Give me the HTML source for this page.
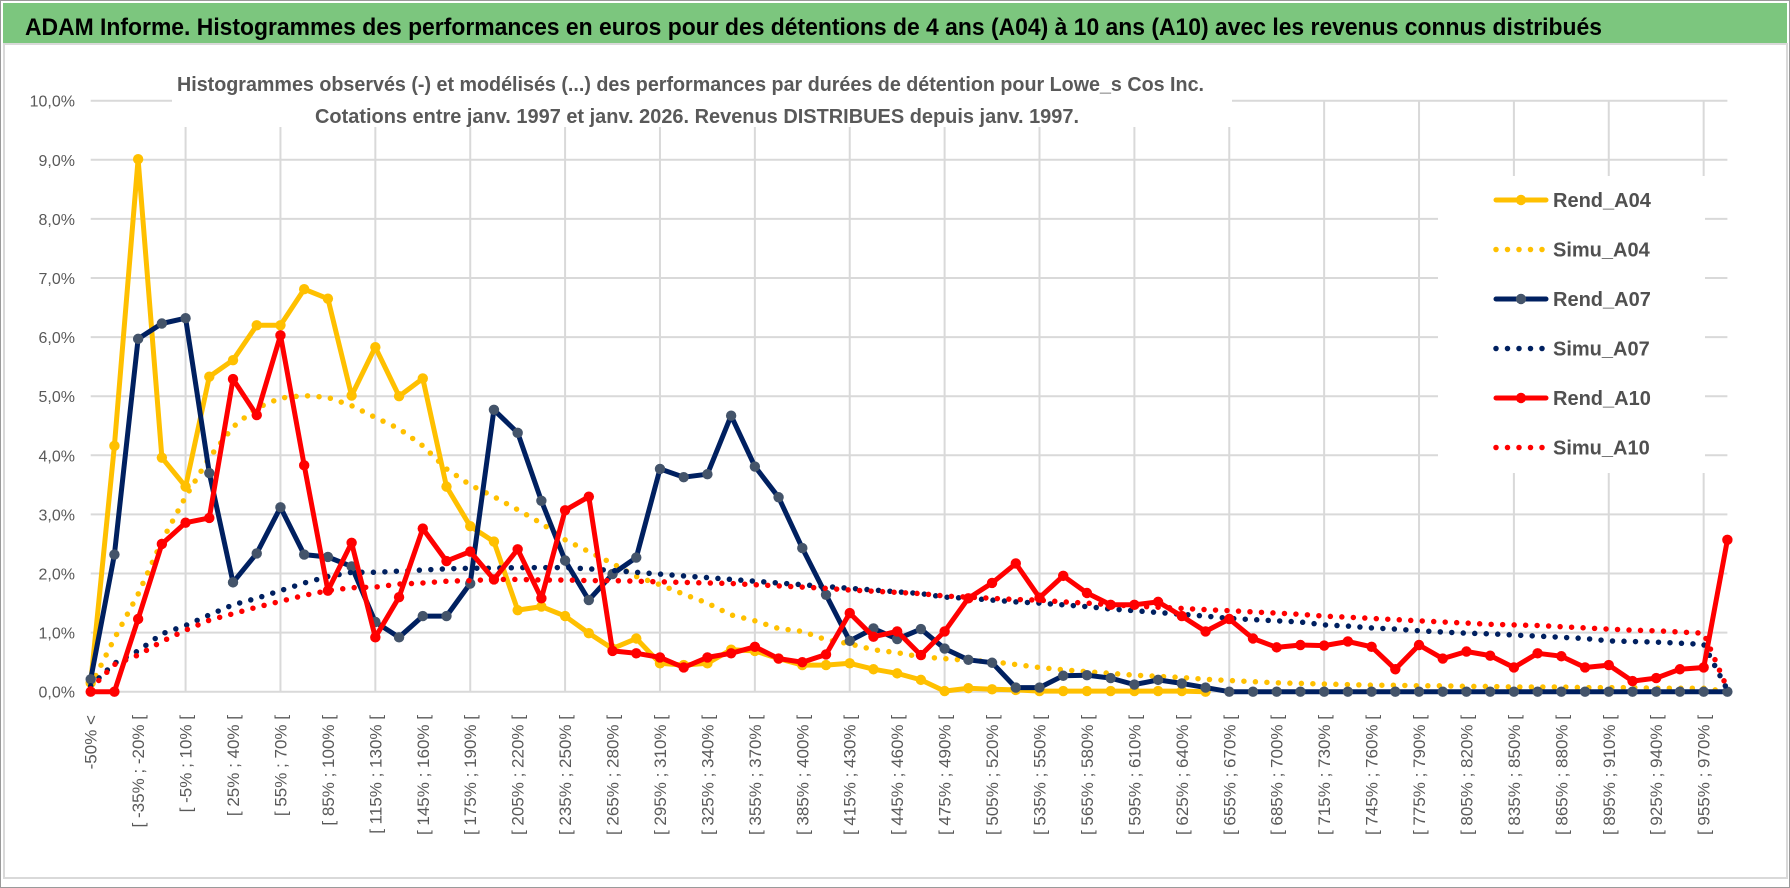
<!DOCTYPE html>
<html><head><meta charset="utf-8"><style>
html,body{margin:0;padding:0;background:#fff;}
svg{display:block;font-family:"Liberation Sans",sans-serif;}
</style></head><body>
<svg id="chart" width="1790" height="888" viewBox="0 0 1790 888">
<rect x="0.5" y="0.5" width="1789" height="887" fill="#fff" stroke="#9a9a9a"/>
<rect x="3" y="3" width="1784" height="40" fill="#7cc67e"/>
<text x="25" y="35" font-size="24" font-weight="bold" fill="#000" textLength="1577" lengthAdjust="spacingAndGlyphs">ADAM Informe. Histogrammes des performances en euros pour des détentions de 4 ans (A04) à 10 ans (A10) avec les revenus connus distribués</text>
<rect x="4" y="44" width="1783" height="834" fill="none" stroke="#d9d9d9" stroke-width="2"/>
<g id="grid"></g>
<rect x="172" y="58" width="1060" height="69" fill="#fff"/>
<text x="177" y="91" font-size="20" font-weight="bold" fill="#595959" textLength="1027" lengthAdjust="spacingAndGlyphs">Histogrammes observés (-) et modélisés (...) des performances par durées de détention pour Lowe_s Cos Inc.</text>
<text x="315" y="123" font-size="20" font-weight="bold" fill="#595959" textLength="764" lengthAdjust="spacingAndGlyphs">Cotations entre janv. 1997 et janv. 2026. Revenus DISTRIBUES depuis janv. 1997.</text>
<g id="yaxis"></g>
<g id="xaxis"></g>
<g id="series"></g>
<g id="legend"></g>
</svg>
<script>
const categories = ["-50% <","[ -50% ; -35% [","[ -35% ; -20% [","[ -20% ; -5% [","[ -5% ; 10% [","[ 10% ; 25% [","[ 25% ; 40% [","[ 40% ; 55% [","[ 55% ; 70% [","[ 70% ; 85% [","[ 85% ; 100% [","[ 100% ; 115% [","[ 115% ; 130% [","[ 130% ; 145% [","[ 145% ; 160% [","[ 160% ; 175% [","[ 175% ; 190% [","[ 190% ; 205% [","[ 205% ; 220% [","[ 220% ; 235% [","[ 235% ; 250% [","[ 250% ; 265% [","[ 265% ; 280% [","[ 280% ; 295% [","[ 295% ; 310% [","[ 310% ; 325% [","[ 325% ; 340% [","[ 340% ; 355% [","[ 355% ; 370% [","[ 370% ; 385% [","[ 385% ; 400% [","[ 400% ; 415% [","[ 415% ; 430% [","[ 430% ; 445% [","[ 445% ; 460% [","[ 460% ; 475% [","[ 475% ; 490% [","[ 490% ; 505% [","[ 505% ; 520% [","[ 520% ; 535% [","[ 535% ; 550% [","[ 550% ; 565% [","[ 565% ; 580% [","[ 580% ; 595% [","[ 595% ; 610% [","[ 610% ; 625% [","[ 625% ; 640% [","[ 640% ; 655% [","[ 655% ; 670% [","[ 670% ; 685% [","[ 685% ; 700% [","[ 700% ; 715% [","[ 715% ; 730% [","[ 730% ; 745% [","[ 745% ; 760% [","[ 760% ; 775% [","[ 775% ; 790% [","[ 790% ; 805% [","[ 805% ; 820% [","[ 820% ; 835% [","[ 835% ; 850% [","[ 850% ; 865% [","[ 865% ; 880% [","[ 880% ; 895% [","[ 895% ; 910% [","[ 910% ; 925% [","[ 925% ; 940% [","[ 940% ; 955% [","[ 955% ; 970% [","[ 970% ; 985% ["];
const yTicks = [0,1,2,3,4,5,6,7,8,9,10];
const yTickLabels = ["0,0%","1,0%","2,0%","3,0%","4,0%","5,0%","6,0%","7,0%","8,0%","9,0%","10,0%"];
const rendA04 = [0.15,4.16,9.01,3.96,3.47,5.33,5.61,6.2,6.2,6.81,6.65,5.01,5.83,5.0,5.3,3.47,2.8,2.54,1.38,1.44,1.28,0.99,0.73,0.9,0.48,0.45,0.48,0.71,0.69,0.56,0.45,0.45,0.48,0.38,0.31,0.2,0.01,0.06,0.04,0.03,0.01,0.01,0.01,0.01,0.01,0.01,0.01,0.0];
const simuA04 = [0.1,0.9,1.65,2.55,3.3,3.96,4.48,4.8,4.97,5.01,4.98,4.84,4.64,4.45,4.16,3.77,3.5,3.3,3.08,2.85,2.57,2.37,2.17,1.95,1.81,1.65,1.5,1.3,1.2,1.07,1.02,0.88,0.81,0.71,0.66,0.59,0.56,0.53,0.51,0.46,0.41,0.37,0.34,0.31,0.28,0.26,0.24,0.21,0.19,0.17,0.15,0.14,0.13,0.12,0.11,0.11,0.1,0.1,0.09,0.09,0.08,0.08,0.08,0.07,0.07,0.07,0.06,0.06,0.06,0];
const rendA07 = [0.21,2.32,5.97,6.23,6.32,3.7,1.85,2.34,3.12,2.32,2.28,2.12,1.18,0.92,1.28,1.28,1.83,4.77,4.38,3.23,2.22,1.55,1.99,2.27,3.77,3.63,3.68,4.67,3.81,3.29,2.43,1.64,0.86,1.07,0.89,1.06,0.73,0.54,0.49,0.07,0.07,0.27,0.28,0.23,0.12,0.2,0.14,0.07,0,0,0,0,0,0,0,0,0,0,0,0,0,0,0,0,0,0,0,0,0,0];
const simuA07 = [0.1,0.48,0.69,0.98,1.12,1.3,1.47,1.58,1.71,1.84,1.95,2.02,2.02,2.04,2.06,2.08,2.09,2.09,2.1,2.1,2.1,2.08,2.05,2.02,1.99,1.96,1.93,1.9,1.87,1.84,1.81,1.78,1.75,1.72,1.69,1.66,1.6,1.58,1.55,1.52,1.5,1.47,1.44,1.4,1.37,1.34,1.31,1.28,1.24,1.22,1.2,1.18,1.13,1.11,1.08,1.06,1.03,1.01,0.99,0.98,0.96,0.94,0.92,0.9,0.86,0.85,0.84,0.82,0.8,0.03];
const rendA10 = [0,0,1.23,2.5,2.86,2.94,5.29,4.68,6.03,3.83,1.71,2.52,0.92,1.6,2.76,2.21,2.37,1.9,2.41,1.58,3.07,3.3,0.69,0.65,0.58,0.41,0.58,0.65,0.76,0.56,0.5,0.63,1.33,0.93,1.02,0.62,1.02,1.58,1.84,2.17,1.59,1.96,1.67,1.47,1.47,1.52,1.28,1.02,1.23,0.9,0.75,0.79,0.78,0.85,0.76,0.38,0.79,0.56,0.68,0.61,0.41,0.65,0.6,0.41,0.45,0.18,0.23,0.38,0.41,2.57];
const simuA10 = [0.05,0.46,0.62,0.85,1.04,1.21,1.32,1.43,1.53,1.63,1.71,1.76,1.77,1.82,1.84,1.87,1.88,1.9,1.9,1.89,1.89,1.88,1.88,1.87,1.86,1.85,1.84,1.83,1.81,1.79,1.77,1.75,1.72,1.7,1.68,1.66,1.62,1.6,1.58,1.56,1.55,1.52,1.5,1.47,1.45,1.43,1.41,1.39,1.37,1.35,1.33,1.31,1.28,1.26,1.24,1.22,1.2,1.18,1.16,1.14,1.13,1.12,1.1,1.08,1.06,1.04,1.03,1.01,0.99,0.05];

const NS = "http://www.w3.org/2000/svg";
const X0 = 90.7, STEP = 23.72, Y0 = 691.7, YUNIT = 59.1;
function xPos(i){ return X0 + i*STEP; }
function yPos(v){ return Y0 - v*YUNIT; }
function mk(tag, attrs, parent){ const e=document.createElementNS(NS,tag); for(const k in attrs) e.setAttribute(k,attrs[k]); parent.appendChild(e); return e; }
const xRight = xPos(categories.length-1);

const grid = document.getElementById('grid');
yTicks.forEach(t=>{
  const l = mk('line',{x1:X0,x2:xRight,y1:yPos(t),y2:yPos(t),stroke:'#d9d9d9','stroke-width':2},grid);
  
  
});
for(let i=4;i<categories.length;i+=4){
  const l = mk('line',{x1:xPos(i),x2:xPos(i),y1:yPos(10),y2:Y0,stroke:'#d9d9d9','stroke-width':2},grid);
  
  
}
const ya = document.getElementById('yaxis');
yTicks.forEach((t,k)=>{
  const tx = mk('text',{x:75,y:yPos(t)+6,'font-size':16,fill:'#595959','text-anchor':'end'},ya);
  tx.textContent = yTickLabels[k];
  
  
});
const xa = document.getElementById('xaxis');
categories.forEach((c,i)=>{
  if(i%2) return;
  const x = xPos(i)+6, y = 715;
  const tx = mk('text',{x:x,y:y,'font-size':17,fill:'#595959','text-anchor':'end',transform:`rotate(-90 ${x} ${y})`},xa);
  tx.textContent = c;
  
  
});

const ser = document.getElementById('series');
function pathOf(arr){ return arr.map((v,i)=>(i?'L':'M')+xPos(i).toFixed(1)+' '+yPos(v).toFixed(1)).join(' '); }
function dotted(arr,color,name){
  const p = mk('path',{d:pathOf(arr),fill:'none',stroke:color,'stroke-width':5.5,'stroke-linecap':'round','stroke-dasharray':'0 11.5'},ser);
  
  
}
function solid(arr,color,mcolor,name){
  const p = mk('path',{d:pathOf(arr),fill:'none',stroke:color,'stroke-width':5,'stroke-linejoin':'round'},ser);
  
  
  arr.forEach((v,i)=>{
    const c = mk('circle',{cx:xPos(i),cy:yPos(v),r:5.2,fill:mcolor},ser);
    
    
  });
}
solid(rendA04,'#ffc000','#ffc000','rend-a04-line');
dotted(simuA04,'#ffc000','simu-a04-line');
solid(rendA07,'#002060','#44546a','rend-a07-line');
dotted(simuA07,'#002060','simu-a07-line');
solid(rendA10,'#ff0000','#ff0000','rend-a10-line');
dotted(simuA10,'#ff0000','simu-a10-line');

const lg = document.getElementById('legend');
const bg = mk('rect',{x:1438,y:176,width:267,height:297,fill:'#fff'},lg);


const legendNames = ['Rend_A04','Simu_A04','Rend_A07','Simu_A07','Rend_A10','Simu_A10'];
const legendColors = ['#ffc000','#ffc000','#002060','#002060','#ff0000','#ff0000'];
const legendMarkers = ['#ffc000',null,'#44546a',null,'#ff0000',null];
legendNames.forEach((n,k)=>{
  const y = 200 + k*49.5;
  const g = mk('g',{},lg);
  
  
  if(legendMarkers[k]){
    mk('line',{x1:1496,x2:1546,y1:y,y2:y,stroke:legendColors[k],'stroke-width':5,'stroke-linecap':'round'},g);
    mk('circle',{cx:1521,cy:y,r:5.2,fill:legendMarkers[k]},g);
  } else {
    mk('line',{x1:1496,x2:1547,y1:y,y2:y,stroke:legendColors[k],'stroke-width':5.5,'stroke-linecap':'round','stroke-dasharray':'0 11.5'},g);
  }
  const t = mk('text',{x:1553,y:y+7,'font-size':20,'font-weight':'bold',fill:'#505050'},g);
  t.textContent = n;
});
</script>
</body></html>
